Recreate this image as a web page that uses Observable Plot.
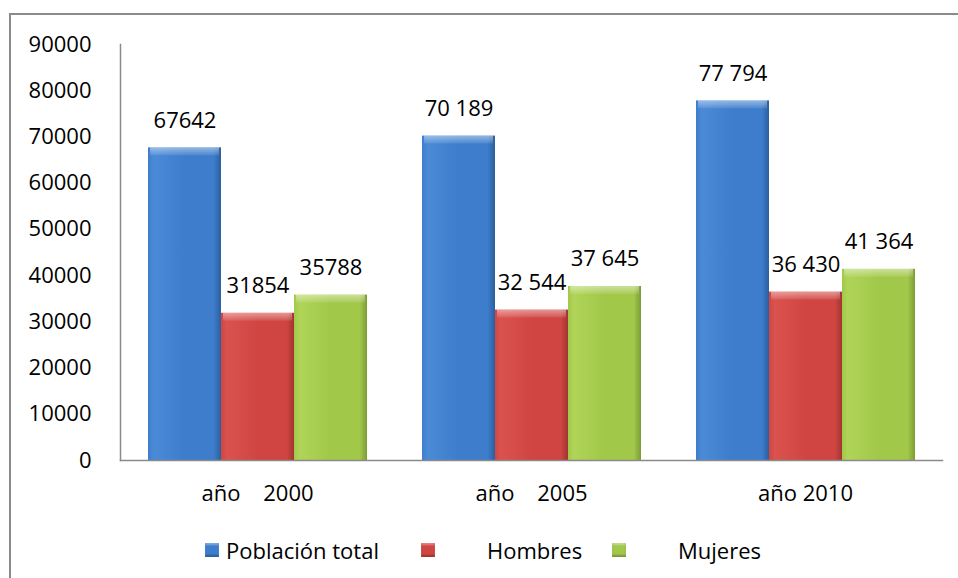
<!DOCTYPE html>
<html>
<head>
<meta charset="utf-8">
<script src="https://cdn.jsdelivr.net/npm/d3@7"></script>
<script src="https://cdn.jsdelivr.net/npm/@observablehq/plot@0.6"></script>
<style>
  html, body { margin: 0; padding: 0; background: #fff; }
  #page { position: relative; width: 958px; height: 578px; overflow: hidden; font-family: "Open Sans", sans-serif; }
  #border { position: absolute; left: 9px; top: 13px; width: 960px; height: 600px; border-top: 2px solid #8a8a8a; border-left: 2px solid #8a8a8a; }
  #chart { position: absolute; left: 0; top: 0; }
  #legend { position: absolute; left: 0; top: 534px; width: 958px; height: 32px; font-size: 22px; color: #000; }
  .item { position: absolute; top: 0; display: flex; align-items: center; height: 32px; }
  .sw { width: 14px; height: 14px; display: inline-block; margin-right: 7px; box-shadow: inset 0 -2px 2px rgba(0,0,0,0.25), inset 0 2px 2px rgba(255,255,255,0.35); }
</style>
</head>
<body>
<div id="page">
  <div id="border"></div>
  <div id="chart"></div>
  <div id="legend"></div>
</div>
<script>
// ---- data ----
const categories = ["año\u00a0\u00a0\u00a0\u00a02000", "año\u00a0\u00a0\u00a0\u00a02005", "año 2010"];
const seriesNames = ["Población total", "Hombres", "Mujeres"];
const poblacionTotal = [67642, 70189, 77794];
const hombres = [31854, 32544, 36430];
const mujeres = [35788, 37645, 41364];
const labelsPoblacion = ["67642", "70 189", "77 794"];
const labelsHombres = ["31854", "32 544", "36 430"];
const labelsMujeres = ["35788", "37 645", "41 364"];
const yTicks = [0, 10000, 20000, 30000, 40000, 50000, 60000, 70000, 80000, 90000];

const seriesValues = [poblacionTotal, hombres, mujeres];
const seriesLabels = [labelsPoblacion, labelsHombres, labelsMujeres];
const colors = { "Población total": "#3d7dcc", "Hombres": "#d04541", "Mujeres": "#a2c84a" };
const gradIds = { "Población total": "gBlue", "Hombres": "gRed", "Mujeres": "gGreen" };

const rows = [];
categories.forEach((c, i) => {
  seriesNames.forEach((s, j) => {
    rows.push({ category: c, series: s, value: seriesValues[j][i], label: seriesLabels[j][i] });
  });
});

const font = "'Open Sans', sans-serif";

const plot = Plot.plot({
  width: 958,
  height: 525,
  marginTop: 44,
  marginBottom: 65,
  marginLeft: 119,
  marginRight: 15,
  style: { fontFamily: font, fontSize: "22px", color: "#000", background: "transparent" },
  fx: { domain: categories, padding: 0, label: null },
  x: { domain: seriesNames, paddingInner: 0, paddingOuter: 0.375, axis: null },
  y: { domain: [0, 90000], label: null },
  marks: [
    Plot.barY(rows, { fx: "category", x: "series", y: "value", fill: d => `url(#${gradIds[d.series]})`, inset: 0 }),
    Plot.barY(rows, { fx: "category", x: "series", y1: "value", y2: "value", insetBottom: -8, insetLeft: 2, insetRight: 2, fill: "url(#gTop)" }),
    Plot.text(rows, { fx: "category", x: "series", y: "value", text: "label", lineAnchor: "bottom", dy: -20, fontSize: 22, fill: "#000" }),
    Plot.axisY({ ticks: yTicks, tickFormat: d => String(d), tickSize: 0, tickPadding: 29, fontSize: 22, label: null }),
    Plot.axisFx({ anchor: "bottom", tickSize: 0, tickPadding: 25, fontSize: 22, label: null }),
    Plot.frame({ anchor: "bottom", stroke: "#8a8a8a", strokeWidth: 1.5, facet: "super" }),
    Plot.frame({ anchor: "left", stroke: "#8a8a8a", strokeWidth: 1.5, facet: "super" })
  ]
});

// gradient definitions for bevelled bars
const ns = "http://www.w3.org/2000/svg";
const defs = document.createElementNS(ns, "defs");
const gradSpecs = {
  gBlue: ["#4a8ad6", "#3d7dcc", "#2c5f9f"],
  gRed: ["#da524e", "#d04541", "#a23431"],
  gGreen: ["#afd458", "#a2c84a", "#7c9c35"]
};
for (const [id, [c0, c1, c2]] of Object.entries(gradSpecs)) {
  const g = document.createElementNS(ns, "linearGradient");
  g.setAttribute("id", id);
  g.setAttribute("x1", "0"); g.setAttribute("x2", "1"); g.setAttribute("y1", "0"); g.setAttribute("y2", "0");
  [[0, c1], [0.08, c0], [0.5, c1], [0.9, c1], [1, c2]].forEach(([o, c]) => {
    const s = document.createElementNS(ns, "stop");
    s.setAttribute("offset", o); s.setAttribute("stop-color", c);
    g.appendChild(s);
  });
  defs.appendChild(g);
}
{
  const g = document.createElementNS(ns, "linearGradient");
  g.setAttribute("id", "gTop");
  g.setAttribute("x1", "0"); g.setAttribute("x2", "0"); g.setAttribute("y1", "0"); g.setAttribute("y2", "1");
  [[0, 0.45], [1, 0.08]].forEach(([o, a]) => {
    const s = document.createElementNS(ns, "stop");
    s.setAttribute("offset", o); s.setAttribute("stop-color", "#ffffff"); s.setAttribute("stop-opacity", a);
    g.appendChild(s);
  });
  defs.appendChild(g);
}
const svg = plot.tagName.toLowerCase() === "svg" ? plot : plot.querySelector("svg");
svg.insertBefore(defs, svg.firstChild);
document.getElementById("chart").appendChild(plot);

// legend
const legend = document.getElementById("legend");
const legendPos = [[205, 7], [421, 52], [612, 52]];
seriesNames.forEach((s, i) => {
  const item = document.createElement("div");
  item.className = "item";
  item.style.left = legendPos[i][0] + "px";
  const sw = document.createElement("span");
  sw.className = "sw";
  sw.style.background = colors[s];
  sw.style.marginRight = legendPos[i][1] + "px";
  const t = document.createElement("span");
  t.textContent = s;
  item.appendChild(sw); item.appendChild(t);
  legend.appendChild(item);
});
</script>
</body>
</html>
